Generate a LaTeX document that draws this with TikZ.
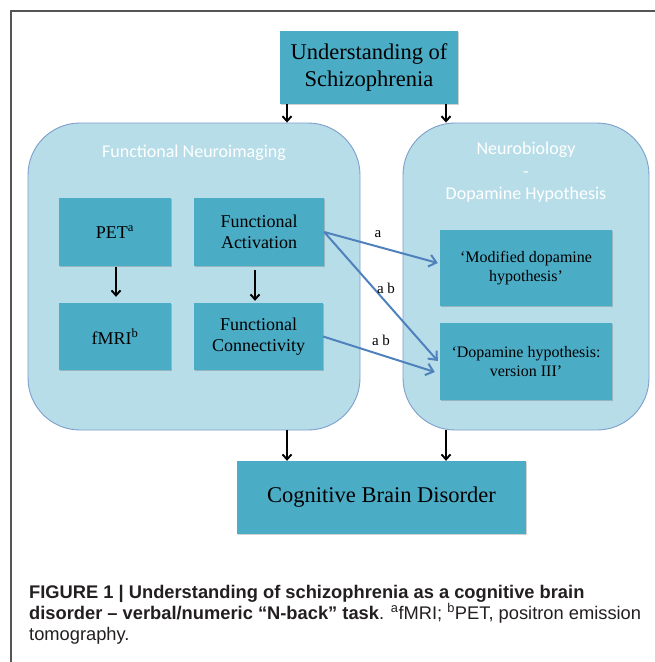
\documentclass[tikz,border=0pt]{standalone}
\usepackage{fontspec}
\setmainfont{Liberation Serif}
\newfontfamily\calib{Carlito}
\newfontfamily\capsans{Liberation Sans}
\usetikzlibrary{arrows.meta,shadows}
\definecolor{dark}{HTML}{4BACC6}
\definecolor{light}{HTML}{B7DDE8}
\definecolor{lightedge}{HTML}{7D9ECC}
\definecolor{blu}{HTML}{4F81BD}
\definecolor{captext}{HTML}{231F20}
\definecolor{framec}{HTML}{555555}
\begin{document}
\begin{tikzpicture}[x=1pt,y=-1pt,
  dbox/.style={fill=dark, draw=none, inner sep=0pt, align=center, text=black,
    drop shadow={shadow xshift=1.2pt, shadow yshift=-1.2pt, opacity=0.18, fill=black}},
  bigbox/.style={fill=light, draw=lightedge, line width=0.9pt, rounded corners=52pt, inner sep=0pt},
  ttl/.style={text=white, font=\calib\fontsize{18}{22.5}\selectfont, align=center, inner sep=0pt},
  blk/.style={draw=black, line width=1.9pt, -{Straight Barb[length=5pt,width=9pt]}},
  bluarr/.style={draw=blu, line width=2pt, -{Straight Barb[length=7pt,width=12pt]}},
  lab/.style={font=\fontsize{15}{15}\selectfont, inner sep=0pt},
  captionline/.style={anchor=base west, inner sep=0pt, text=captext, font=\capsans\fontsize{18.3}{22}\selectfont}
]
\useasboundingbox (0,0) rectangle (655,662);
\draw[framec, line width=1.3pt] (11,662) -- (11,11) -- (655,11);

% top box
\node[dbox, minimum width=178pt, minimum height=73pt, font=\fontsize{22.5}{27}\selectfont]
  (top) at (369,67.5) {Understanding of\\Schizophrenia};

% big rounded boxes
\node[bigbox, minimum width=332pt, minimum height=307pt] (lbig) at (194,276.5) {};
\node[bigbox, minimum width=246pt, minimum height=307pt] (rbig) at (526,276.5) {};
\node[ttl] (ltitle) at (194,153) {Functional Neuroimaging};
\node[ttl] (rtitle) at (526,172.5) {Neurobiology\\-\\Dopamine Hypothesis};

% inner boxes
\node[dbox, minimum width=112pt, minimum height=68pt, font=\fontsize{18}{21}\selectfont]
  (pet) at (115,232) {PET\textsuperscript{a}};
\node[dbox, minimum width=112pt, minimum height=67pt, font=\fontsize{18}{21}\selectfont]
  (fmri) at (115,336.5) {fMRI\textsuperscript{b}};
\node[dbox, minimum width=130pt, minimum height=68pt, font=\fontsize{18}{21}\selectfont]
  (fa) at (259,232) {Functional\\Activation};
\node[dbox, minimum width=129pt, minimum height=67pt, font=\fontsize{18}{21}\selectfont]
  (fc) at (258.5,336.5) {Functional\\Connectivity};
\node[dbox, minimum width=172pt, minimum height=76pt, font=\fontsize{16}{19.5}\selectfont]
  (md) at (526,268) {‘Modified dopamine\\hypothesis’};
\node[dbox, minimum width=172pt, minimum height=77pt, font=\fontsize{16}{19.5}\selectfont]
  (v3) at (526,361.5) {‘Dopamine hypothesis:\\version III’};

% bottom box
\node[dbox, minimum width=289pt, minimum height=73pt, font=\fontsize{22.5}{27}\selectfont]
  (cbd) at (381.5,497.5) {Cognitive Brain Disorder};

% black arrows
\coordinate (xl) at (287,0);
\coordinate (xr) at (446,0);
\draw[blk] (top.south -| xl) -- (lbig.north -| xl);
\draw[blk] (top.south -| xr) -- (rbig.north -| xr);
\draw[blk] (lbig.south -| xl) -- (cbd.north -| xl);
\draw[blk] (rbig.south -| xr) -- (cbd.north -| xr);
\draw[blk, shorten <=1pt, shorten >=6pt] ([xshift=1pt]pet.south) -- ([xshift=1pt]fmri.north);
\draw[blk, shorten <=4pt, shorten >=2pt] ([xshift=-4pt]fa.south) -- ([xshift=-3.5pt]fc.north);

% blue arrows
\draw[bluarr] (fa.east) -- ([xshift=-2pt,yshift=5pt]md.west);
\draw[bluarr] (fa.east) -- ([xshift=-2pt,yshift=0.5pt]v3.west);
\draw[bluarr] (fc.east) -- ([xshift=-5pt,yshift=-10.5pt]v3.west);
\node[lab] (la) at (378,234) {a};
\node[lab] (lab1) at (386,288) {a b};
\node[lab] (lab2) at (381,340) {a b};

% caption
\node[captionline] (c1) at (29,598) {\bfseries FIGURE 1 | Understanding of schizophrenia as a cognitive brain};
\node[captionline] (c2) at (29,619) {\textbf{disorder – verbal/numeric “N-back” task}. \textsuperscript{a}fMRI; \textsuperscript{b}PET, positron emission};
\node[captionline] (c3) at (29,640) {tomography.};
\end{tikzpicture}
\end{document}
